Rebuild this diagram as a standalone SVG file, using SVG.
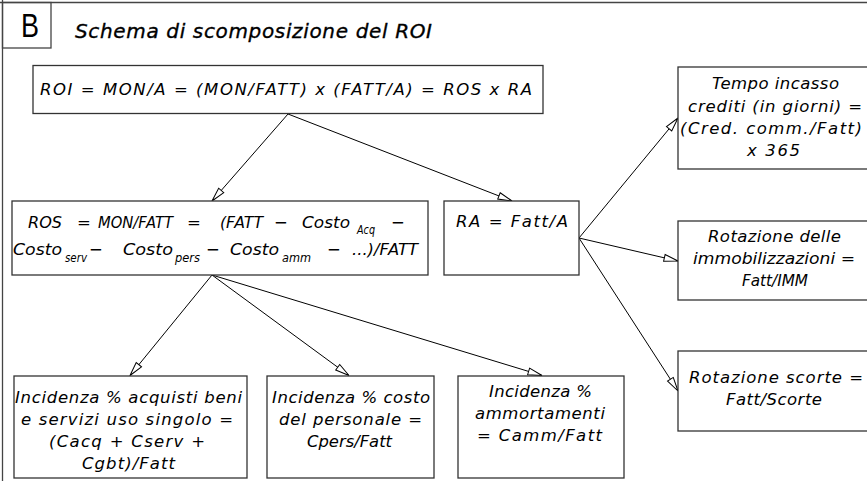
<svg xmlns="http://www.w3.org/2000/svg" width="867" height="481" viewBox="0 0 867 481">
<style>
.bx{fill:#fff;stroke:#333;stroke-width:1.3}
.fr{fill:none;stroke:#444;stroke-width:1.3}
.cn{fill:none;stroke:#000;stroke-width:1}
text{font-family:"DejaVu Sans","Liberation Sans",sans-serif;font-style:oblique;font-size:16.5px;font-weight:300;fill:#000}
.sub{font-size:12.5px}
.t{font-size:20px;font-weight:normal;stroke:#000;stroke-width:0.35}
.b{font-family:"Liberation Sans",Arial,sans-serif;font-style:normal;font-size:33px;font-weight:normal}
</style>
<defs>
<marker id="ah" markerUnits="userSpaceOnUse" markerWidth="16" markerHeight="10" refX="14" refY="4" orient="auto" overflow="visible">
<path d="M0,0.6 L14,4 L0,7.4 Z" fill="#fff" stroke="#000" stroke-width="1"/>
</marker>
</defs>
<rect width="867" height="481" fill="#fff"/>
<g id="frame">
<line class="fr" x1="0" y1="2.5" x2="867" y2="2.5"/>
<line class="fr" x1="2.5" y1="0" x2="2.5" y2="481"/>
<rect class="fr" x="2.5" y="2.5" width="48.5" height="45.5"/>
<text class="b" x="21" y="37" textLength="18" lengthAdjust="spacingAndGlyphs">B</text>
<text class="t" x="75" y="38" textLength="357" lengthAdjust="spacing">Schema di scomposizione del ROI</text>
</g>
<g id="connectors">
<line class="cn" x1="288" y1="114" x2="212" y2="201" marker-end="url(#ah)"/>
<line class="cn" x1="288" y1="114" x2="512" y2="201" marker-end="url(#ah)"/>
<line class="cn" x1="212" y1="275" x2="130" y2="375.5" marker-end="url(#ah)"/>
<line class="cn" x1="212" y1="275" x2="349" y2="375.5" marker-end="url(#ah)"/>
<line class="cn" x1="212" y1="275" x2="542" y2="375.5" marker-end="url(#ah)"/>
<line class="cn" x1="579" y1="238" x2="678" y2="118" marker-end="url(#ah)"/>
<line class="cn" x1="579" y1="238" x2="678" y2="261" marker-end="url(#ah)"/>
<line class="cn" x1="579" y1="238" x2="678" y2="391" marker-end="url(#ah)"/>
</g>
<g id="roi">
<rect class="bx" x="33" y="65.5" width="510" height="48"/>
<text x="40" y="95" textLength="492" lengthAdjust="spacing">ROI = MON/A = (MON/FATT) x (FATT/A) = ROS x RA</text>
</g>
<g id="ros">
<rect class="bx" x="12" y="201" width="416" height="74"/>
<text x="28" y="228" textLength="34" lengthAdjust="spacingAndGlyphs">ROS</text>
<text x="77" y="228">=</text>
<text x="98" y="228" textLength="75" lengthAdjust="spacingAndGlyphs">MON/FATT</text>
<text x="187" y="228">=</text>
<text x="220" y="228" textLength="43" lengthAdjust="spacingAndGlyphs">(FATT</text>
<text x="274" y="228">−</text>
<text x="302" y="228" textLength="48" lengthAdjust="spacingAndGlyphs">Costo</text>
<text class="sub" x="357" y="234" textLength="18" lengthAdjust="spacingAndGlyphs">Acq</text>
<text x="391" y="228">−</text>
<text x="13" y="255" textLength="49" lengthAdjust="spacingAndGlyphs">Costo</text>
<text class="sub" x="65" y="262" textLength="22" lengthAdjust="spacingAndGlyphs">serv</text>
<text x="89" y="255">−</text>
<text x="123" y="255" textLength="50" lengthAdjust="spacingAndGlyphs">Costo</text>
<text class="sub" x="175" y="262" textLength="25" lengthAdjust="spacingAndGlyphs">pers</text>
<text x="206" y="255">−</text>
<text x="230" y="255" textLength="49" lengthAdjust="spacingAndGlyphs">Costo</text>
<text class="sub" x="282" y="262" textLength="29" lengthAdjust="spacingAndGlyphs">amm</text>
<text x="327" y="255">−</text>
<text x="352" y="255" textLength="66" lengthAdjust="spacingAndGlyphs">...)/FATT</text>
</g>
<g id="ra">
<rect class="bx" x="444" y="201" width="135" height="74"/>
<text x="456" y="227" textLength="112" lengthAdjust="spacing">RA = Fatt/A</text>
</g>
<g id="tempo">
<rect class="bx" x="678" y="67" width="200" height="102"/>
<text x="712" y="89" textLength="127" lengthAdjust="spacing">Tempo incasso</text>
<text x="688" y="112" textLength="174" lengthAdjust="spacing">crediti (in giorni) =</text>
<text x="680" y="134" textLength="182" lengthAdjust="spacing">(Cred. comm./Fatt)</text>
<text x="747" y="156" textLength="53" lengthAdjust="spacing">x 365</text>
</g>
<g id="immob">
<rect class="bx" x="678" y="221" width="200" height="79"/>
<text x="708" y="242" textLength="133" lengthAdjust="spacing">Rotazione delle</text>
<text x="693" y="264" textLength="162" lengthAdjust="spacingAndGlyphs">immobilizzazioni =</text>
<text x="742" y="286" textLength="66" lengthAdjust="spacingAndGlyphs">Fatt/IMM</text>
</g>
<g id="scorte">
<rect class="bx" x="678" y="351" width="200" height="80"/>
<text x="689" y="383" textLength="174" lengthAdjust="spacing">Rotazione scorte =</text>
<text x="726" y="405" textLength="96" lengthAdjust="spacing">Fatt/Scorte</text>
</g>
<g id="acquisti">
<rect class="bx" x="14" y="376" width="233" height="102"/>
<text x="15" y="403" textLength="227" lengthAdjust="spacing">Incidenza % acquisti beni</text>
<text x="21" y="425" textLength="212" lengthAdjust="spacing">e servizi uso singolo =</text>
<text x="49" y="447" textLength="156" lengthAdjust="spacing">(Cacq + Cserv +</text>
<text x="82" y="469" textLength="93" lengthAdjust="spacing">Cgbt)/Fatt</text>
</g>
<g id="personale">
<rect class="bx" x="267" y="376" width="167" height="102"/>
<text x="272" y="403" textLength="158" lengthAdjust="spacing">Incidenza % costo</text>
<text x="279" y="425" textLength="143" lengthAdjust="spacing">del personale =</text>
<text x="307" y="447" textLength="85" lengthAdjust="spacingAndGlyphs">Cpers/Fatt</text>
</g>
<g id="ammortamenti">
<rect class="bx" x="458" y="376" width="166" height="102"/>
<text x="489" y="397" textLength="103" lengthAdjust="spacing">Incidenza %</text>
<text x="475" y="419" textLength="130" lengthAdjust="spacing">ammortamenti</text>
<text x="477" y="441" textLength="125" lengthAdjust="spacing">= Camm/Fatt</text>
</g>
</svg>
